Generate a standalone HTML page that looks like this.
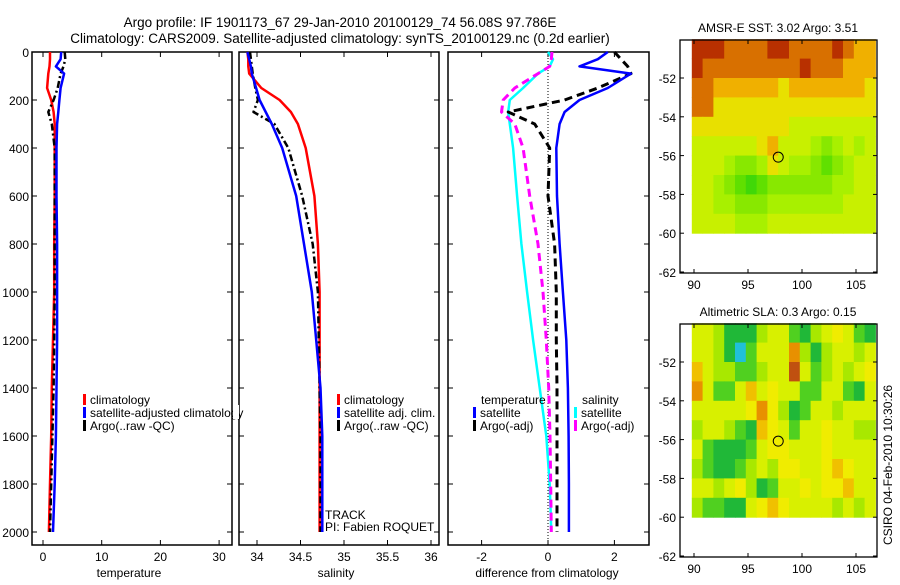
<!DOCTYPE html>
<html><head><meta charset="utf-8"><style>
body{margin:0;background:#fff;}
svg text{font-family:"Liberation Sans",sans-serif;fill:#000;}
</style></head><body>
<svg id="fig" width="900" height="580" xmlns="http://www.w3.org/2000/svg">
<text x="340" y="27" font-size="13.5" text-anchor="middle">Argo profile: IF 1901173_67 29-Jan-2010 20100129_74 56.08S 97.786E</text>
<text x="340" y="43" font-size="13.5" text-anchor="middle">Climatology: CARS2009. Satellite-adjusted climatology: synTS_20100129.nc (0.2d earlier)</text>
<text x="778" y="32" font-size="12" text-anchor="middle">AMSR-E SST: 3.02 Argo: 3.51</text>
<text x="778" y="316" font-size="12" text-anchor="middle">Altimetric SLA: 0.3 Argo: 0.15</text>
<text transform="translate(892,465) rotate(-90)" font-size="12" text-anchor="middle">CSIRO 04-Feb-2010 10:30:26</text>
<g id="layer"></g>
</svg>
<script>
// ---- data ----
const depths=[0,30,60,90,150,200,250,300,400,600,800,1000,1200,1400,1600,1800,2000];
const tempClim=[1.2,1.2,1.1,0.9,0.7,1.4,1.8,2.0,2.0,2.0,1.9,1.9,1.7,1.5,1.4,1.2,1.0];
const tempSat=[3.1,3.0,2.2,3.6,3.0,2.8,2.6,2.4,2.3,2.3,2.4,2.4,2.4,2.3,2.2,2.0,1.7];
const tempArgo=[3.7,3.8,3.5,3.0,2.5,1.8,0.9,1.5,2.0,2.0,2.0,2.0,1.9,1.8,1.6,1.4,1.2];
const salClim=[33.89,33.90,33.90,33.91,34.05,34.26,34.39,34.47,34.56,34.66,34.70,34.72,34.72,34.72,34.72,34.72,34.72];
const salSat=[33.89,33.91,33.93,33.94,33.99,34.03,34.10,34.17,34.29,34.45,34.54,34.63,34.68,34.73,34.75,34.75,34.75];
const salArgo=[33.92,33.93,33.94,33.95,33.98,34.01,33.96,34.20,34.36,34.52,34.64,34.70,34.71,34.72,34.73,34.73,34.73];
const diffTempSat=[1.8,1.5,0.95,2.5,1.8,0.95,0.5,0.35,0.25,0.27,0.35,0.45,0.55,0.6,0.62,0.63,0.63];
const diffTempArgo=[2.0,2.2,2.4,2.5,1.5,0.5,-1.2,-0.4,0.05,0.0,0.2,0.25,0.25,0.27,0.27,0.27,0.27];
const diffSalSat=[0,0.15,0.05,-0.3,-0.75,-1.15,-1.2,-1.15,-1.05,-0.93,-0.8,-0.63,-0.45,-0.25,-0.05,0.05,0.1];
const diffSalArgo=[0.12,0.1,0.05,-0.3,-1.0,-1.35,-1.4,-1.0,-0.75,-0.55,-0.3,-0.15,-0.05,0.02,0.06,0.08,0.1];
const depthTicks=[0,200,400,600,800,1000,1200,1400,1600,1800,2000];
const tempTicks=[0,10,20,30];
const salTicks=[34,34.5,35,35.5,36];
const diffTicks=[-2,0,2];
const lonTicks=[90,95,100,105];
const latTicks=[-52,-54,-56,-58,-60,-62];
const mapLons=[89.8,90.8,91.8,92.8,93.8,94.8,95.8,96.8,97.8,98.8,99.8,100.8,101.8,102.8,103.8,104.8,105.8];
const mapLats=[-50,-51,-52,-53,-54,-55,-56,-57,-58,-59];
const sstGrid=[
[9,9,9,8,8,8,8,9,9,8,8,8,8,9,8,7,7],
[9,8,8,8,8,8,8,8,8,8,9,8,8,8,7,7,7],
[8,8,7,7,7,7,7,7,6,7,7,7,7,7,7,7,6],
[8,8,6,6,6,6,6,6,6,6,6,6,6,6,6,6,6],
[6,6,6,6,6,6,6,6,6,5,5,5,5,5,5,5,5],
[5,5,5,5,5,5,6,7,5,5,5,4,3,4,5,4,5],
[5,5,5,4,3,3,4,6,5,4,4,3,2,3,4,5,5],
[5,5,4,3,2,1,2,3,3,3,3,3,3,4,4,5,5],
[5,5,4,4,3,3,3,4,4,4,4,4,4,4,5,5,5],
[5,5,5,5,4,4,4,5,5,5,5,5,5,5,5,5,5]];
const slaGrid=[
[5,5,4,2,2,2,4,5,5,3,2,4,5,6,5,3,2],
[5,5,4,2,0,3,5,5,5,8,4,2,4,5,5,4,5],
[7,5,4,4,3,3,4,5,5,9,5,3,4,5,4,5,6],
[8,5,3,3,5,7,5,6,5,5,3,3,5,5,3,2,5],
[5,5,5,5,5,6,8,6,4,2,3,5,5,4,5,5,5],
[4,5,5,4,3,2,7,6,5,3,5,5,6,5,5,4,4],
[5,3,2,2,2,3,5,6,6,5,5,5,6,5,5,5,5],
[4,3,2,2,3,4,5,4,6,6,5,5,6,7,6,5,5],
[5,5,4,5,6,4,2,3,5,5,6,5,6,6,7,5,5],
[4,3,3,2,2,5,6,7,6,5,5,5,5,4,5,4,5]];
const argoPos=[97.8,-56.08];

const SVGNS="http://www.w3.org/2000/svg";
const L=document.getElementById('layer');
function mk(tag,attrs){const e=document.createElementNS(SVGNS,tag);for(const k in attrs)e.setAttribute(k,attrs[k]);L.appendChild(e);return e;}
const yD=d=>52+d*0.24;
const xT=t=>43+t*5.87;
const xS=s=>257+(s-34)*87;
const xDf=v=>548+v*33.2;
const panels=[[32,232],[239,439],[448,649]];
const TOP=52,BOT=545;

panels.forEach((p,i)=>{
 const r=mk('rect',{x:p[0],y:TOP,width:p[1]-p[0],height:BOT-TOP,fill:'none',stroke:'#000','stroke-width':1.5});
 
 
 depthTicks.forEach(d=>{
  const t1=mk('line',{x1:p[0],x2:p[0]+5,y1:yD(d),y2:yD(d),stroke:'#000'});
  
  
  const t2=mk('line',{x1:p[1],x2:p[1]-5,y1:yD(d),y2:yD(d),stroke:'#000'});
  
  
 });
});
depthTicks.forEach(d=>{
 const t=mk('text',{x:29,y:yD(d)+5,'font-size':12,'text-anchor':'end'});
 t.textContent=d;
 
 
});
function xticks(ticks,fx,prefix){
 ticks.forEach(v=>{
  const a=mk('line',{x1:fx(v),x2:fx(v),y1:BOT,y2:BOT-5,stroke:'#000'});
  
  
  const b=mk('line',{x1:fx(v),x2:fx(v),y1:TOP,y2:TOP+5,stroke:'#000'});
  
  
  const t=mk('text',{x:fx(v),y:561,'font-size':12,'text-anchor':'middle'});
  t.textContent=v;
  
  
 });
}
xticks(tempTicks,xT,'temperature');
xticks(salTicks,xS,'salinity');
xticks(diffTicks,xDf,'difference');
[['temperature',129],['salinity',336],['difference from climatology',547]].forEach(([s,x])=>{
 const t=mk('text',{x:x,y:577,'font-size':12,'text-anchor':'middle'});
 t.textContent=s;
 
 
});
const z=mk('line',{x1:xDf(0),x2:xDf(0),y1:TOP,y2:BOT,stroke:'#000','stroke-dasharray':'1,2'});



function series(vals,fx,color,dash,name,w){
 const pts=vals.map((v,i)=>fx(v).toFixed(1)+','+yD(depths[i]).toFixed(1)).join(' ');
 const e=mk('polyline',{points:pts,fill:'none',stroke:color,'stroke-width':w||2.5,'stroke-dasharray':dash||'none','stroke-linejoin':'round'});
 
 
}
series(tempClim,xT,'#f00',null,'temperature-climatology-line');
series(tempArgo,xT,'#000','7,3,2,3','temperature-argo-line');
series(tempSat,xT,'#00f',null,'temperature-satellite-line');
series(salClim,xS,'#f00',null,'salinity-climatology-line');
series(salArgo,xS,'#000','7,3,2,3','salinity-argo-line');
series(salSat,xS,'#00f',null,'salinity-satellite-line');
series(diffSalSat,xDf,'#0ff',null,'diff-salinity-satellite-line');
series(diffSalArgo,xDf,'#f0f','8,5','diff-salinity-argo-line',3);
series(diffTempArgo,xDf,'#000','8,5','diff-temperature-argo-line',3);
series(diffTempSat,xDf,'#00f',null,'diff-temperature-satellite-line');

function legend(x,y,color,label,name){
 const r=mk('rect',{x:x,y:y-10,width:3,height:11,fill:color});
 
 
 const t=mk('text',{x:x+7,y:y,'font-size':12});
 t.textContent=label;
 
 
}
legend(83,404,'#f00','climatology','legend-temp-climatology');
legend(83,417,'#00f','satellite-adjusted climatology','legend-temp-satellite');
legend(83,430,'#000','Argo(..raw -QC)','legend-temp-argo');
legend(337,404,'#f00','climatology','legend-sal-climatology');
legend(337,417,'#00f','satellite adj. clim.','legend-sal-satellite');
legend(337,430,'#000','Argo(..raw -QC)','legend-sal-argo');
legend(473,417,'#00f','satellite','legend-diff-temp-satellite');
legend(473,430,'#000','Argo(-adj)','legend-diff-temp-argo');
legend(574,417,'#0ff','satellite','legend-diff-sal-satellite');
legend(574,430,'#f0f','Argo(-adj)','legend-diff-sal-argo');
[['temperature',481],['salinity',582]].forEach(([s,x])=>{
 const t=mk('text',{x:x,y:404,'font-size':12});
 t.textContent=s;
 
 
});
const cv=mk('rect',{x:233,y:405,width:6,height:14,fill:'#fff'});


[['TRACK',519],['PI: Fabien ROQUET',531]].forEach(([s,y])=>{
 const t=mk('text',{x:325,y:y,'font-size':12});
 t.textContent=s;
 
 
});

const sstColors=['#20d010','#40d808','#60e000','#88e800','#a8f000','#c8f000','#e8e000','#f0b000','#d87000','#b83000'];
const slaColors=['#20c0d8','#10a080','#20b838','#50d020','#a8e800','#d8f000','#f0ec00','#f0c000','#e89000','#c05010'];
function drawMap(top,grid,colors,prefix){
 const x0=680,x1=877,bot=top+233;
 const mx=lon=>694+(lon-90)*10.8;
 const my=lat=>(top+38)+(-52-lat)*19.4;
 grid.forEach((row,i)=>row.forEach((v,j)=>{
  const r=mk('rect',{x:mx(mapLons[j]).toFixed(1),y:my(mapLats[i]).toFixed(1),width:(10.8+0.5).toFixed(1),height:(19.4+0.5).toFixed(1),fill:colors[v]});
  
  
 }));
 const f=mk('rect',{x:x0,y:top,width:x1-x0,height:bot-top,fill:'none',stroke:'#000','stroke-width':1.3});
 
 
 lonTicks.forEach(v=>{
  const a=mk('line',{x1:mx(v),x2:mx(v),y1:bot,y2:bot-4,stroke:'#000'});
  
  
  const b=mk('line',{x1:mx(v),x2:mx(v),y1:top,y2:top+4,stroke:'#000'});
  
  
  const t=mk('text',{x:mx(v),y:bot+16,'font-size':12,'text-anchor':'middle'});
  t.textContent=v;
  
  
 });
 latTicks.forEach(v=>{
  const a=mk('line',{x1:x0,x2:x0+4,y1:my(v),y2:my(v),stroke:'#000'});
  
  
  const b=mk('line',{x1:x1,x2:x1-4,y1:my(v),y2:my(v),stroke:'#000'});
  
  
  const t=mk('text',{x:x0-4,y:my(v)+5,'font-size':12,'text-anchor':'end'});
  t.textContent=v;
  
  
 });
 const c=mk('circle',{cx:mx(argoPos[0]),cy:my(argoPos[1]),r:5,fill:'none',stroke:'#000','stroke-width':1});
 
 
}
drawMap(40,sstGrid,sstColors,'sst-map');
drawMap(324,slaGrid,slaColors,'sla-map');
</script>
</body></html>
